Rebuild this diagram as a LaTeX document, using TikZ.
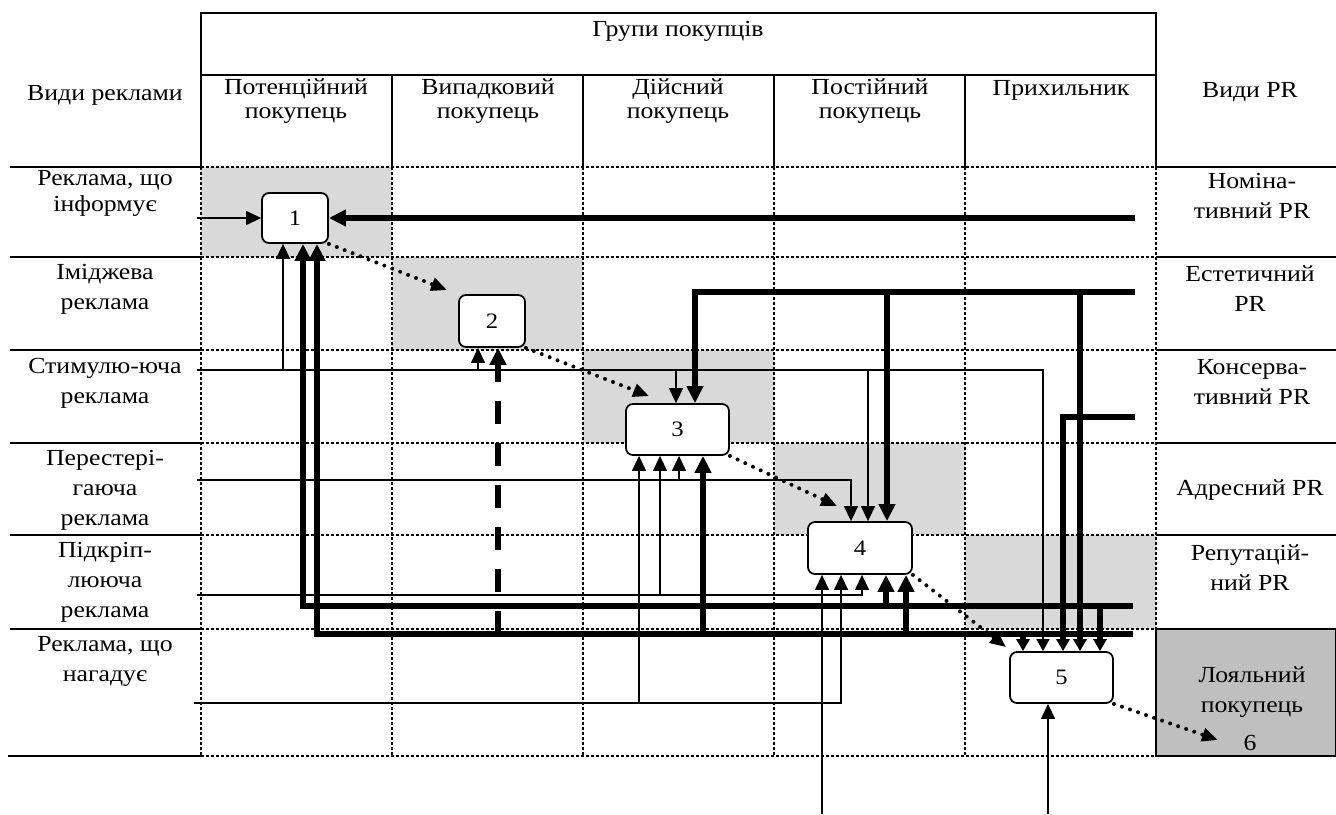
\documentclass[tikz,border=0pt]{standalone}
\usepackage{fontspec}
\setmainfont{Liberation Serif}[FakeStretch=1.12]
\usetikzlibrary{arrows.meta}
\definecolor{cellgray}{HTML}{D9D9D9}
\definecolor{loyalgray}{HTML}{BFBFBF}
\begin{document}
\begin{tikzpicture}[x=1pt,y=-1pt,
  solidln/.style={line width=2.2pt},
  gridln/.style={line width=2pt, dash pattern=on 3pt off 2pt},
  thinln/.style={line width=1.4pt},
  thickln/.style={line width=5.5pt},
  tipthin/.style={-{Triangle[length=15pt,width=14pt]}},
  tipthick/.style={-{Triangle[length=17pt,width=16pt]}},
  tipsmall/.style={-{Triangle[length=12pt,width=13pt]}},
  flowbox/.style={draw, line width=1.8pt, rounded corners=7pt, fill=white, inner sep=0pt, font=\fontsize{22}{24}\selectfont},
  dots/.style={line width=4pt, line cap=round, dash pattern=on 0pt off 8.5pt},
  dottip/.style={-{Triangle[length=16pt,width=13pt]}},
  lbl/.style={align=center, inner sep=0pt, font=\fontsize{23}{30}\selectfont},
  hdr/.style={align=center, inner sep=0pt, font=\fontsize{23}{23.5}\selectfont},
]
\useasboundingbox (0,0) rectangle (1336,814);
% shaded cells
\fill[cellgray] (201,167) rectangle (392,257);
\fill[cellgray] (392,257) rectangle (583,350);
\fill[cellgray] (583,350) rectangle (774,443);
\fill[cellgray] (774,443) rectangle (965,535);
\fill[cellgray] (965,535) rectangle (1156,629);
\filldraw[fill=loyalgray, line width=2.2pt] (1156,629) rectangle (1336,756);
% header frame
\draw[solidln] (201,167) -- (201,13) -- (1156,13) -- (1156,167);
\draw[solidln] (201,75) -- (1156,75);
\foreach \x in {392,583,774,965} \draw[solidln] (\x,75) -- (\x,167);
% side rules
\foreach \y in {167,257,350,443,535,629} \draw[solidln] (10,\y) -- (201,\y);
\draw[solidln] (8,756) -- (201,756);
\foreach \y in {167,257,350,443,535} \draw[solidln] (1156,\y) -- (1336,\y);
% dotted grid
\foreach \y in {167,257,350,443,535,629,756} \draw[gridln] (201,\y) -- (1156,\y);
\foreach \x in {201,392,583,774,965,1156} \draw[gridln] (\x,167) -- (\x,756);
% boxes
\node[flowbox, minimum width=66pt, minimum height=50pt] (b1) at (295,218) {1};
\node[flowbox, minimum width=66pt, minimum height=52pt] (b2) at (492,321) {2};
\node[flowbox, minimum width=103pt, minimum height=51pt] (b3) at (677.5,429.5) {3};
\node[flowbox, minimum width=104pt, minimum height=52pt] (b4) at (860,548) {4};
\node[flowbox, minimum width=103pt, minimum height=51pt] (b5) at (1061.5,677.5) {5};
% source coordinates
\coordinate (s1) at (197,218);
\coordinate (s3) at (197,370);
\coordinate (s4) at (197,480);
\coordinate (s5) at (197,595);
\coordinate (s6) at (194,703);
\coordinate (u4) at (822,814);
\coordinate (u5) at (1048,814);
\coordinate (pr1) at (1135,218);
\coordinate (pr2) at (1135,292);
\coordinate (pr3) at (1135,417);
\coordinate (ra) at (1133,606);
\coordinate (rb) at (1133,634);
\coordinate (c6) at (1218,740);
% thin connectors
\draw[thinln,tipthin] (s1) -- (b1.west);
\draw[thinln,tipsmall] (s3) -- (1043,370) -- (1043,0 |- b5.north);
\draw[thinln,tipthin] (283,370) -- (283,0 |- b1.south);
\draw[thinln,tipthin] (478,370) -- (478,0 |- b2.south);
\draw[thinln,tipthin] (676,370) -- (676,0 |- b3.north);
\draw[thinln,tipthin] (868,370) -- (868,0 |- b4.north);
\draw[thinln,tipthin] (s4) -- (851,480) -- (851,0 |- b4.north);
\draw[thinln,tipthin] (679,480) -- (679,0 |- b3.south);
\draw[thinln,tipthin] (s5) -- (862,595) -- (862,0 |- b4.south);
\draw[thinln,tipthin] (660,595) -- (660,0 |- b3.south);
\draw[thinln,tipthin] (s6) -- (841,703) -- (841,0 |- b4.south);
\draw[thinln,tipthin] (639,703) -- (639,0 |- b3.south);
\draw[thinln,tipthin] (u4) -- (u4 |- b4.south);
\draw[thinln,tipthin] (u5) -- (u5 |- b5.south);
% thick connectors
\draw[thickln,tipthick] (pr1) -- (b1.east);
\draw[thickln,tipthick] (pr2) -- (695,292) -- (695,0 |- b3.north);
\draw[thickln,tipthick] (887,292) -- (887,0 |- b4.north);
\draw[thickln,tipsmall] (1080,292) -- (1080,0 |- b5.north);
\draw[thickln,tipsmall] (pr3) -- (1063,417) -- (1063,0 |- b5.north);
\draw[thickln,tipthick] (ra) -- (303,606) -- (303,0 |- b1.south);
\draw[thickln,tipthick] (886,606) -- (886,0 |- b4.south);
\draw[thickln,tipsmall] (1100,606) -- (1100,0 |- b5.north);
\draw[thickln,tipthick] (rb) -- (317,634) -- (317,0 |- b1.south);
\draw[thickln,tipthick,dash pattern=on 23pt off 19pt] (498,634) -- (498,0 |- b2.south);
\draw[thickln,tipthick] (703,634) -- (703,0 |- b3.south);
\draw[thickln,tipthick] (906,634) -- (906,0 |- b4.south);
\draw[thickln,tipsmall] (1023,634) -- (1023,0 |- b5.north);
% dotted flow
\draw[dots,dottip] (b1.south east) -- ([xshift=-11pt,yshift=4pt]b2.north west);
\draw[dots,dottip] (b2.south east) -- ([xshift=24pt,yshift=7pt]b3.north west);
\draw[dots,dottip] (b3.south east) -- ([xshift=30pt,yshift=15pt]b4.north west);
\draw[dots,dottip] (b4.south east) -- ([xshift=-3pt,yshift=4pt]b5.north west);
\draw[dots,dottip] (b5.south east) -- (c6);
% header texts
\node[hdr] (tG) at (678,31) {Групи покупців};
\node[hdr] (tVR) at (105,95) {Види реклами};
\node[hdr] (h1) at (296,101) {Потенційний\\покупець};
\node[hdr] (h2) at (488,101) {Випадковий\\покупець};
\node[hdr] (h3) at (678,101) {Дійсний\\покупець};
\node[hdr] (h4) at (870,101) {Постійний\\покупець};
\node[hdr] (h5) at (1061,90) {Прихильник};
\node[hdr] (hPR) at (1250,92) {Види PR};
% left labels
\node[lbl, font=\fontsize{23}{26}\selectfont] (r1) at (105,193) {Реклама, що\\інформує};
\node[lbl] (r2) at (105,289) {Іміджева\\реклама};
\node[lbl] (r3) at (105,383) {Стимулю-юча\\реклама};
\node[lbl] (r4) at (105,490) {Перестері-\\гаюча\\реклама};
\node[lbl] (r5) at (105,582) {Підкріп-\\лююча\\реклама};
\node[lbl] (r6) at (105,661) {Реклама, що\\нагадує};
% right labels
\node[lbl] (p1) at (1252,196) {Номіна-\\тивний PR};
\node[lbl] (p2) at (1250,289) {Естетичний\\PR};
\node[lbl] (p3) at (1252,382) {Консерва-\\тивний PR};
\node[lbl] (p4) at (1250,490) {Адресний PR};
\node[lbl] (p5) at (1250,568) {Репутацій-\\ний PR};
\node[lbl] (p6) at (1252,692) {Лояльний\\покупець};
\node[lbl] (n6) at (1250,743) {6};
\end{tikzpicture}
\end{document}
